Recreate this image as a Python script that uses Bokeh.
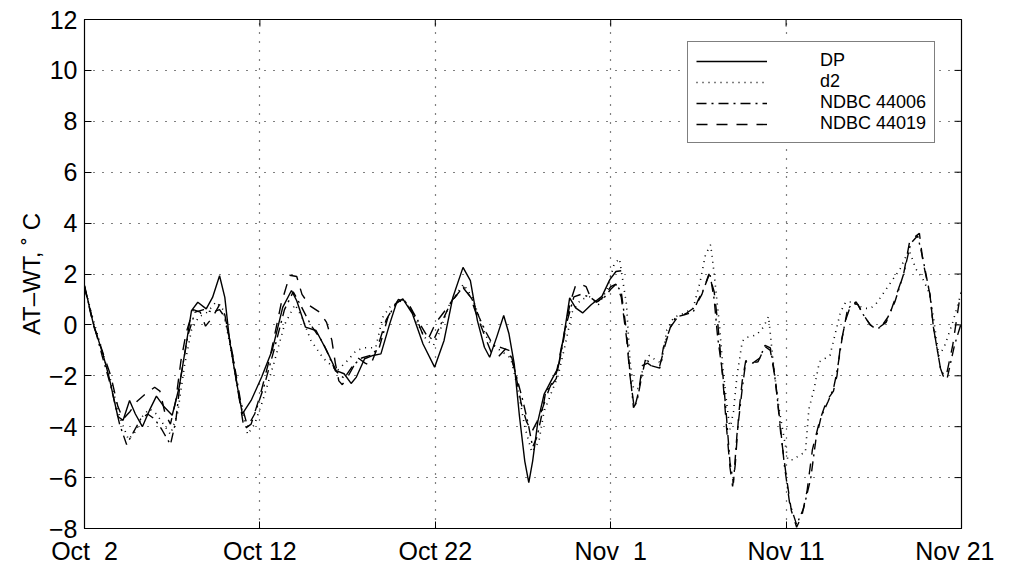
import math
from bokeh.plotting import figure
from bokeh.models import FixedTicker, Legend, LegendItem, Range1d
from bokeh.embed import file_html
from bokeh.resources import INLINE

# ---- axes ----
x_tick_days = [0, 10, 20, 30, 40, 50]
x_tick_labels = ["Oct\u00a0\u00a02", "Oct 12", "Oct 22", "Nov\u00a0\u00a01", "Nov 11", "Nov 21"]
y_ticks = [-8, -6, -4, -2, 0, 2, 4, 6, 8, 10, 12]
y_tick_labels = ["\u22128", "\u22126", "\u22124", "\u22122", "0", "2", "4", "6", "8", "10", "12"]
y_label = "AT\u2013WT, \u02da C"

# ---- series (days after Oct 2, AT-WT in C) ----
dp_days = [0.0, 0.5, 1.05, 1.4, 1.9, 2.2, 2.57, 2.9, 3.3, 3.7, 4.1, 4.55, 5.0, 5.4, 5.8, 6.1, 6.46,
           6.94, 7.3, 7.7, 8.0, 8.27, 8.65, 9.0, 9.5, 10.1, 10.7, 11.3, 11.8, 12.1, 12.6, 13.2, 13.8,
           14.35, 14.8, 15.2, 15.5, 15.97, 16.45, 16.9, 17.4, 17.8, 18.15, 18.7, 19.3, 19.96, 20.5,
           21.0, 21.58, 22.0, 22.4, 22.8, 23.1, 23.5, 23.9, 24.2, 24.5, 24.8, 25.1, 25.33, 25.55,
           25.85, 26.2, 26.6, 27.0, 27.4, 27.66, 28.0, 28.4, 28.9, 29.5, 29.95, 30.3, 30.6]
dp_vals = [1.55, 0.05, -1.15, -2.05, -3.6, -3.75, -2.97, -3.5, -4.0, -3.36, -2.8, -3.23, -3.55, -2.44,
           -0.75, 0.56, 0.89, 0.63, 1.08, 1.93, 1.08, -0.61, -2.18, -3.5, -2.97, -2.05, -1.0, 0.69,
           1.35, 0.95, -0.09, -0.22, -1.0, -1.8, -1.92, -2.3, -2.05, -1.33, -1.2, -1.14, 0.04, 0.89,
           1.02, 0.43, -0.75, -1.66, -0.61, 1.08, 2.26, 1.74, 0.17, -0.88, -1.27, -0.48, 0.37, -0.35,
           -1.53, -3.6, -5.35, -6.2, -5.35, -3.78, -2.73, -2.2, -1.69, -0.12, 1.06, 0.67, 0.47, 0.8,
           1.12, 1.78, 2.1, 2.13]

d2_days = [0.0, 0.5, 1.0, 1.5, 2.0, 2.5, 2.9, 3.3, 3.7, 4.1, 4.5, 4.9, 5.3, 5.7, 6.1, 6.5, 7.0, 7.5,
           7.9, 8.3, 8.8, 9.3, 9.7, 10.2, 10.8, 11.4, 12.0, 12.4, 12.9, 13.6, 14.4, 15.0, 15.5, 16.0,
           16.6, 17.0, 17.4, 18.2, 18.7, 19.1, 19.5, 19.9, 20.2, 20.8, 21.6, 22.1, 22.7, 23.0, 23.5,
           23.9, 24.3, 24.7, 25.1, 25.5, 25.9, 26.2, 26.6, 27.0, 27.4, 27.8, 28.3, 28.8, 29.3, 29.8,
           30.2, 30.5, 30.9, 31.1, 31.3, 31.6, 31.9, 32.2, 32.6, 32.9, 33.2, 33.6, 34.0, 34.7, 35.1,
           35.4, 35.7, 35.9, 36.2, 36.4, 36.6, 36.8, 37.0, 37.2, 37.5, 37.7, 38.3, 38.7, 39.0, 39.3,
           39.6, 39.8, 40.1, 40.4, 40.8, 41.1, 41.3, 41.6, 41.9, 42.5, 43.1, 43.4, 43.8, 44.4, 44.8,
           45.1, 45.9, 46.5, 47.0, 47.4, 47.8, 48.2, 48.4, 48.7, 49.0, 49.5, 50.0]
d2_vals = [1.5, 0.2, -1.0, -2.2, -3.6, -4.5, -4.2, -3.6, -3.3, -3.5, -3.9, -4.3, -3.5, -1.6, -0.2,
           0.3, 0.5, 0.9, 0.6, -0.8, -2.8, -4.3, -3.9, -2.9, -1.5, 0.0, 0.8, 0.3, -0.6, -1.3, -1.8,
           -1.4, -1.0, -0.9, -0.9, 0.3, 0.7, 1.0, 0.5, -0.1, -0.6, -0.8, -0.35, 0.8, 1.6, 1.1, -0.1,
           -0.6, -0.9, -1.1, -1.3, -2.5, -4.0, -5.0, -4.6, -3.4, -2.7, -2.0, -0.8, 0.5, 1.0, 1.1, 0.8,
           1.4, 2.4, 2.6, 0.8, -1.4, -2.5, -2.5, -1.5, -1.2, -1.4, -1.5, -0.2, 0.3, 0.4, 0.65, 1.7,
           2.75, 3.15, 2.0, 0.0, -1.7, -3.0, -4.1, -3.4, -2.0, -0.65, -0.5, -0.4, -0.1, 0.33, -1.7,
           -3.3, -4.1, -5.3, -5.3, -5.1, -5.0, -3.3, -2.5, -1.45, -1.2, 0.5, 0.9, 0.9, 0.65, 0.65,
           0.8, 1.6, 2.2, 2.95, 2.2, 1.8, 1.2, 0.3, -1.2, -0.9, 0.1, 1.3]

n06_days = [0.0, 0.5, 1.0, 1.5, 2.0, 2.4, 2.8, 3.2, 3.6, 4.0, 4.4, 4.9, 5.2, 5.5, 5.9, 6.3, 6.8, 7.3,
            7.7, 8.0, 8.4, 8.9, 9.3, 9.7, 10.2, 10.8, 11.4, 11.9, 12.3, 12.9, 13.6, 14.3, 14.8, 15.3,
            15.8, 16.3, 16.8, 17.3, 17.9, 18.3, 18.9, 19.5, 19.9, 20.3, 20.9, 21.6, 22.1, 22.5, 22.9,
            23.3, 23.8, 24.2, 24.6, 25.0, 25.3, 25.55, 25.8, 26.05, 26.3, 26.6, 26.9, 27.2, 27.5, 27.9,
            28.3, 28.8, 29.2, 29.6, 30.0, 30.3, 30.6, 30.9, 31.1, 31.3, 31.5, 31.75, 32.0, 32.3, 32.8,
            33.0, 33.4, 33.7, 34.2, 34.7, 35.0, 35.3, 35.65, 35.9, 36.1, 36.4, 36.6, 36.8, 37.0, 37.2,
            37.5, 37.7, 38.1, 38.5, 38.8, 39.1, 39.3, 39.6, 39.9, 40.2, 40.6, 41.0, 41.4, 41.7, 42.0,
            42.4, 42.7, 42.9, 43.2, 43.5, 43.8, 44.1, 44.4, 44.8, 45.1, 45.4, 45.8, 46.2, 46.7, 47.1,
            47.5, 47.8, 48.2, 48.4, 48.8, 49.0, 49.2, 49.6, 50.0]
n06_vals = [1.5, 0.1, -1.2, -2.4, -3.9, -4.7, -4.2, -3.7, -3.5, -3.7, -4.1, -4.7, -3.8, -2.0, -0.4,
            0.5, 0.6, 0.5, 0.6, 0.3, -1.0, -3.0, -4.0, -3.5, -2.5, -1.0, 0.6, 1.3, 0.8, 0.0, -0.7,
            -1.8, -2.1, -1.6, -1.3, -1.2, -0.9, 0.3, 1.0, 0.9, 0.3, -0.4, -0.6, 0.0, 0.9, 1.5, 1.0,
            0.3, -0.3, -0.8, -0.9, -1.0, -1.95, -3.0, -3.9, -4.8, -4.4, -3.6, -2.6, -2.4, -2.1, -1.0,
            0.1, 1.1, 1.2, 1.1, 0.9, 1.05, 1.4, 1.6, 1.3, -0.25, -1.9, -3.25, -3.0, -2.1, -1.3, -1.6,
            -1.7, -0.9, -0.1, 0.3, 0.4, 0.5, 1.0, 1.4, 2.04, 1.0, -0.5, -2.0, -3.6, -5.4, -6.2, -4.3,
            -2.5, -1.45, -1.5, -1.3, -0.8, -0.9, -1.7, -3.5, -5.5, -7.0, -7.85, -7.2, -6.05, -4.5,
            -3.6, -3.0, -2.5, -1.85, -0.5, 0.6, 0.85, 0.8, 0.4, 0.0, -0.15, -0.1, 0.3, 0.9, 2.0, 3.2,
            3.5, 2.6, 1.2, -0.1, -1.7, -2.0, -2.05, -0.8, 0.1]

n19_days = [0.0, 0.5, 1.0, 1.5, 1.9, 2.2, 2.6, 3.0, 3.5, 4.0, 4.3, 4.6, 4.9, 5.2, 5.5, 5.8, 6.2, 6.6,
            6.9, 7.3, 7.7, 8.0, 8.4, 8.8, 9.1, 9.5, 10.0, 10.6, 11.2, 11.7, 12.1, 12.4, 12.85, 13.4,
            13.8, 14.1, 14.3, 14.5, 14.7, 15.0, 15.6, 16.0, 16.3, 16.7, 17.2, 17.7, 18.1, 18.5, 18.9,
            19.3, 19.6, 19.9, 20.1, 20.6, 21.0, 21.6, 22.0, 22.3, 22.8, 23.2, 23.6, 24.0, 24.3, 24.6,
            24.9, 25.2, 25.5, 25.8, 26.1, 26.5, 26.9, 27.3, 27.7, 28.0, 28.3, 28.6, 28.9, 29.2, 29.6,
            30.0, 30.3, 30.6, 30.9, 31.1, 31.35, 31.6, 31.8, 32.1, 32.5, 32.8, 33.1, 33.4, 33.8, 34.3,
            34.8, 35.2, 35.6, 35.9, 36.1, 36.4, 36.6, 36.8, 36.95, 37.1, 37.3, 37.5, 37.7, 38.0, 38.4,
            38.8, 39.1, 39.4, 39.7, 40.0, 40.3, 40.6, 40.9, 41.2, 41.5, 41.9, 42.3, 42.7, 42.9, 43.1,
            43.4, 43.7, 44.0, 44.4, 44.8, 45.1, 45.3, 45.7, 45.9, 46.1, 46.7, 47.05, 47.6, 47.8, 48.2,
            48.4, 48.8, 48.95, 49.1, 49.5, 49.9, 50.0]
n19_vals = [1.5, 0.0, -1.0, -2.0, -3.2, -3.7, -3.4, -3.0, -2.7, -2.45, -2.6, -3.5, -3.9, -3.0, -1.4,
            -0.3, 0.6, 0.5, -0.05, 0.3, 0.8, 0.4, -1.0, -2.8, -4.1, -3.9, -2.8, -1.2, 0.8, 1.95, 1.9,
            1.2, 0.75, 0.5, 0.1, -0.6, -1.5, -2.2, -2.35, -2.05, -1.3, -1.5, -1.6, -0.9, 0.2, 0.8, 1.0,
            0.8, 0.3, -0.4, -0.55, -0.1, 0.15, 0.6, 1.0, 1.45, 1.1, 0.5, -0.4, -1.1, -1.25, -0.95,
            -1.1, -2.0, -3.1, -3.8, -4.2, -3.8, -3.3, -2.5, -1.9, -0.5, 0.9, 1.55, 1.6, 1.5, 1.0, 0.9,
            1.1, 1.5, 1.6, 1.1, -0.5, -2.0, -3.3, -2.6, -1.6, -1.5, -1.7, -1.6, -0.8, -0.1, 0.3, 0.45,
            0.7, 1.2, 2.0, 1.3, 0.1, -2.2, -4.0, -5.6, -6.35, -5.5, -3.5, -2.2, -1.4, -1.5, -1.45,
            -0.85, -1.0, -2.2, -4.3, -5.9, -7.3, -7.95, -7.5, -6.5, -4.9, -3.8, -3.0, -2.6, -2.0, -0.8,
            0.2, 0.8, 0.9, 0.4, 0.0, -0.15, -0.1, 0.1, 0.4, 0.8, 2.0, 3.3, 3.6, 2.5, 1.2, -0.1, -1.7,
            -2.0, -2.1, -0.8, 1.05, 1.3]

FONT = "Liberation Sans"

p = figure(frame_width=877, frame_height=509, output_backend="svg", toolbar_location=None,
           x_range=Range1d(x_tick_days[0], x_tick_days[-1]), y_range=Range1d(y_ticks[0], y_ticks[-1]),
           min_border_left=84, min_border_right=33, min_border_top=19, min_border_bottom=30,
           background_fill_color="white", border_fill_color="white")
p.outline_line_color = "black"
p.outline_line_width = 1.2

for ax in (p.xaxis[0], p.yaxis[0]):
    ax.major_tick_in = 7
    ax.major_tick_out = 0
    ax.minor_tick_line_color = None
    ax.axis_line_color = "black"
    ax.major_tick_line_color = "black"
    ax.major_label_text_font = FONT
    ax.major_label_text_font_size = "25px"
    ax.major_label_text_color = "black"

p.xaxis[0].ticker = FixedTicker(ticks=x_tick_days)
p.xaxis[0].major_label_overrides = dict(zip(x_tick_days, x_tick_labels))
p.xaxis[0].major_label_standoff = 8
p.yaxis[0].ticker = FixedTicker(ticks=y_ticks)
p.yaxis[0].major_label_overrides = dict(zip(y_ticks, y_tick_labels))
p.yaxis[0].major_label_standoff = 7
p.yaxis[0].axis_label = y_label
p.yaxis[0].axis_label_text_font = FONT
p.yaxis[0].axis_label_text_font_size = "24px"
p.yaxis[0].axis_label_text_font_style = "normal"
p.yaxis[0].axis_label_text_color = "black"
p.yaxis[0].axis_label_standoff = 1

p.xgrid.ticker = FixedTicker(ticks=x_tick_days)
p.ygrid.ticker = FixedTicker(ticks=y_ticks)
for g in (p.xgrid[0], p.ygrid[0]):
    g.grid_line_color = "black"
    g.grid_line_dash = "1 8"
    g.grid_line_width = 1.2

# inward ticks on the top and right edges of the box (clipped to the frame)
p.scatter(x_tick_days, [y_ticks[-1]] * len(x_tick_days), marker="dash", angle=math.pi / 2,
          size=14, line_color="black", line_width=1)
p.scatter([x_tick_days[-1]] * len(y_ticks), y_ticks, marker="dash",
          size=14, line_color="black", line_width=1)

r_dp = p.line(dp_days, dp_vals, line_color="black", line_width=1.4)
r_d2 = p.line(d2_days, d2_vals, line_color="black", line_width=1.6, line_dash="1 5")
r_06 = p.line(n06_days, n06_vals, line_color="black", line_width=1.4, line_dash="10 5 2 5")
r_19 = p.line(n19_days, n19_vals, line_color="black", line_width=1.4, line_dash="11 9")

legend = Legend(items=[LegendItem(label="DP", renderers=[r_dp]),
                       LegendItem(label="d2", renderers=[r_d2]),
                       LegendItem(label="NDBC 44006", renderers=[r_06]),
                       LegendItem(label="NDBC 44019", renderers=[r_19])],
                location=(603, 385), orientation="vertical",
                glyph_width=71, glyph_height=18, label_height=18, label_standoff=53,
                padding=8, spacing=0, margin=0,
                label_text_font=FONT, label_text_font_size="18px", label_text_color="black",
                border_line_color="black", border_line_width=1.2,
                background_fill_color="white", background_fill_alpha=1.0)
p.add_layout(legend, "center")

open("out.html", "w").write(file_html(p, INLINE))
